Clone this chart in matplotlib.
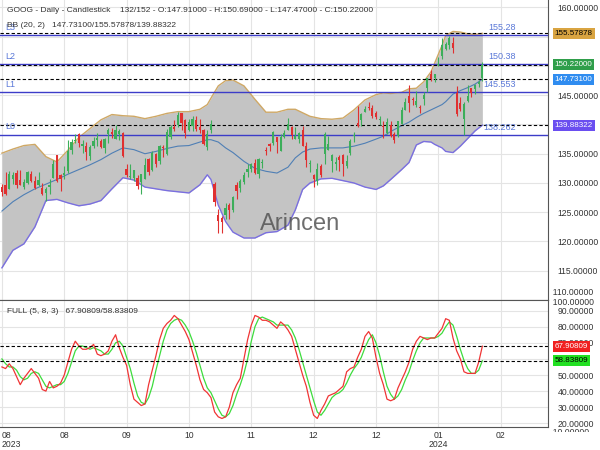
import numpy as np
import matplotlib
matplotlib.use("Agg")
from matplotlib import pyplot as plt
from matplotlib.transforms import Bbox, TransformedBbox

plt.rcParams['font.family'] = ['Liberation Sans', 'DejaVu Sans']

# GOOG daily bars, 2023-08-03 .. 2024-02-09 (132 bars)
opens = [129.4, 129.6, 129.0, 130.6, 131.7, 130.5, 129.3, 130.0, 131.5, 130.3,
         129.7, 129.2, 128.3, 129.4, 130.9, 134.7, 131.3, 131.3, 132.0, 135.6,
         137.1, 138.4, 136.4, 136.3, 134.6, 136.4, 137.4, 137.1, 135.9, 138.4,
         138.8, 137.6, 138.3, 138.6, 132.4, 131.1, 130.9, 130.9, 130.2, 130.7,
         134.1, 132.2, 134.9, 133.7, 136.1, 134.9, 137.9, 139.5, 139.9, 141.9,
         140.7, 139.0, 139.8, 140.8, 139.5, 139.0, 136.2, 139.1, 129.8, 124.5,
         124.0, 124.5, 126.3, 125.3, 129.6, 129.1, 130.2, 131.9, 132.4, 133.4,
         131.5, 133.4, 135.6, 136.6, 136.9, 137.8, 135.5, 137.9, 139.1, 139.5,
         137.6, 137.6, 139.0, 136.4, 133.3, 131.3, 130.4, 132.9, 135.0, 135.7,
         133.8, 133.3, 134.5, 134.8, 132.9, 135.1, 138.0, 140.2, 140.8, 142.1,
         143.0, 142.8, 141.9, 140.7, 139.6, 138.6, 139.9, 138.4, 138.0, 140.1,
         142.5, 144.9, 144.3, 143.4, 142.9, 144.3, 146.3, 148.7, 147.9, 150.2,
         151.7, 152.9, 153.6, 154.0, 145.4, 143.7, 140.9, 144.0, 146.2, 146.1,
         146.9, 147.91]
highs = [129.8, 131.9, 132.0, 131.9, 132.2, 132.3, 130.6, 132.0, 132.0, 131.2,
         131.9, 130.0, 129.3, 130.6, 133.9, 134.7, 131.5, 132.9, 137.4, 137.6,
         138.4, 138.6, 137.4, 137.0, 136.5, 137.9, 138.6, 137.6, 137.7, 139.4,
         139.4, 139.9, 139.2, 138.8, 133.2, 133.2, 132.2, 131.4, 131.5, 134.2,
         134.3, 135.4, 135.2, 136.5, 136.5, 139.2, 139.9, 140.8, 142.2, 142.0,
         141.0, 140.9, 141.4, 141.4, 140.9, 139.2, 139.0, 140.7, 130.1, 125.5,
         124.4, 126.6, 126.6, 127.7, 130.1, 130.7, 131.8, 133.3, 133.5, 134.1,
         134.3, 134.1, 136.2, 136.8, 138.9, 137.9, 138.4, 139.0, 141.1, 139.7,
         139.6, 138.7, 139.7, 137.0, 134.0, 131.5, 133.5, 133.3, 138.7, 138.0,
         134.9, 134.5, 134.8, 135.0, 134.8, 137.5, 138.8, 143.1, 142.0, 143.2,
         143.9, 143.3, 142.3, 141.4, 140.6, 141.1, 140.6, 138.8, 140.6, 143.0,
         144.5, 146.7, 144.7, 145.8, 143.4, 145.6, 148.0, 149.4, 148.7, 151.6,
         154.8, 154.1, 155.2, 155.0, 146.5, 144.7, 143.9, 146.7, 146.3, 147.0,
         147.6, 150.69]
lows = [127.7, 127.9, 128.9, 129.9, 129.2, 129.6, 128.9, 129.8, 130.1, 129.0,
        129.5, 127.9, 126.9, 128.1, 130.8, 130.1, 128.7, 130.6, 131.7, 135.0,
        136.8, 136.2, 135.2, 133.9, 133.9, 136.0, 136.4, 135.9, 135.2, 136.8,
        137.7, 137.6, 137.3, 134.5, 131.1, 130.7, 130.4, 128.9, 128.2, 130.7,
        131.3, 132.1, 132.8, 133.3, 134.5, 134.7, 137.6, 138.9, 139.5, 139.0,
        137.7, 138.9, 138.9, 138.9, 138.6, 136.5, 135.7, 138.5, 126.1, 121.5,
        121.5, 123.9, 123.9, 125.0, 127.3, 128.4, 129.9, 131.0, 131.9, 131.6,
        130.9, 132.6, 134.7, 135.5, 136.5, 135.2, 135.5, 137.7, 139.0, 137.5,
        137.5, 136.8, 136.3, 132.8, 131.8, 129.4, 129.7, 131.0, 133.3, 135.6,
        131.9, 132.2, 132.0, 131.2, 132.6, 134.8, 137.0, 139.5, 139.8, 142.1,
        142.5, 141.1, 141.0, 139.9, 137.7, 138.4, 137.9, 136.9, 137.9, 140.0,
        142.5, 142.2, 143.4, 143.0, 141.9, 143.4, 145.6, 147.4, 147.2, 150.0,
        151.2, 152.8, 152.9, 152.3, 141.5, 142.3, 138.2, 143.9, 144.7, 145.2,
        146.4, 147.47]
closes = [128.45, 128.11, 131.53, 131.40, 129.66, 129.69, 130.17, 131.83, 130.27, 129.11,
          130.46, 128.11, 128.93, 129.69, 133.21, 130.42, 130.69, 131.79, 135.49, 136.93,
          137.35, 136.80, 136.71, 135.37, 136.20, 137.20, 137.74, 136.07, 137.50, 138.99,
          138.30, 139.12, 138.83, 134.59, 131.36, 131.25, 132.17, 129.45, 131.46, 133.13,
          131.85, 135.17, 133.30, 136.27, 135.99, 138.73, 139.50, 139.20, 141.70, 140.29,
          138.58, 140.49, 140.99, 139.28, 138.98, 136.74, 138.42, 140.12, 126.67, 123.44,
          123.40, 125.75, 125.30, 127.57, 128.58, 130.37, 131.45, 132.40, 133.26, 131.69,
          134.06, 133.64, 135.43, 136.38, 138.70, 136.94, 137.92, 138.62, 140.02, 138.22,
          138.05, 138.62, 136.40, 133.92, 133.32, 130.63, 132.39, 131.43, 138.45, 136.64,
          134.70, 133.64, 133.97, 133.20, 133.84, 137.19, 138.10, 139.66, 141.80, 142.72,
          142.82, 141.44, 141.28, 140.93, 139.56, 140.36, 138.04, 137.39, 140.53, 142.56,
          143.80, 143.67, 144.24, 144.08, 142.89, 144.99, 147.97, 147.71, 148.68, 150.35,
          153.64, 153.79, 154.84, 153.05, 141.80, 142.71, 143.54, 144.93, 145.41, 146.68,
          147.22, 150.22]

# bollinger band (20, 2) at these bars
bb_idx = [0, 3, 6, 9, 12, 15, 18, 21, 24, 27, 30, 33, 36, 39, 42, 45, 48, 51, 54, 56,
          57, 59, 61, 63, 66, 69, 72, 75, 78, 80, 82, 84, 87, 90, 93, 96, 99, 102, 104, 106,
          109, 111, 113, 115, 117, 118, 120, 121, 123, 125, 127, 129, 131]
bb_upper = [135.1, 135.8, 136.4, 136.6, 134.5, 133.6, 135.6, 137.8, 139.3, 140.8,
            141.7, 141.5, 141.4, 141.0, 141.4, 141.9, 142.2, 142.2, 142.6, 143.4,
            144.5, 146.6, 147.5, 147.6, 146.6, 144.3, 142.1, 142.1, 142.6, 142.6,
            142.0, 141.4, 141.0, 140.9, 141.1, 142.5, 144.2, 145.1, 145.4, 145.3,
            145.5, 146.1, 146.2, 147.3, 149.0, 150.5, 153.5, 155.2, 155.9, 155.8,
            155.5, 155.4, 155.57878]
bb_mid = [125.2, 126.8, 128.0, 129.0, 129.8, 130.6, 131.5, 132.3, 133.1, 134.0,
          135.1, 136.0, 135.7, 135.0, 135.4, 135.9, 136.3, 136.4, 137.0, 137.4,
          137.4, 137.0, 136.0, 135.2, 133.7, 132.5, 132.0, 131.7, 132.7, 134.3,
          135.3, 135.8, 136.0, 136.0, 136.0, 136.3, 136.8, 137.5, 138.0, 138.8,
          139.8, 140.4, 141.2, 141.9, 142.5, 142.8, 143.4, 143.9, 145.2, 145.8,
          146.3, 146.9, 147.731]
bb_lower = [115.5, 118.5, 119.6, 122.5, 127.0, 127.2, 126.6, 126.1, 126.4, 127.0,
            129.0, 130.9, 130.5, 129.3, 129.0, 128.7, 128.5, 128.3, 129.7, 131.4,
            130.6, 126.2, 123.4, 121.6, 120.6, 120.6, 121.5, 121.7, 122.8, 125.4,
            128.9, 130.0, 130.7, 130.8, 130.4, 130.0, 129.3, 128.9, 129.5, 130.6,
            132.3, 133.5, 136.5, 137.1, 137.0, 136.6, 136.0, 135.4, 135.2, 136.3,
            137.6, 138.9, 139.88322]

# full stochastic (5, 8, 3), one value per bar
stoch_k = [55, 54, 57, 54, 49, 44, 48, 51, 54, 51, 48, 41, 40, 46, 42, 43, 45, 50, 58, 66,
           71, 68, 66, 66, 67, 69, 63, 62, 63, 65, 71, 75, 67, 61, 56, 44, 35, 33, 31, 32,
           44, 53, 62, 72, 79, 82, 84, 87, 85, 81, 77, 72, 64, 56, 47, 41, 39, 36, 27, 24,
           23, 24, 30, 39, 44, 48, 60, 72, 81, 87, 86, 84, 84, 83, 81, 79, 83, 81, 78, 74,
           66, 58, 50, 43, 33, 25, 23, 28, 32, 37, 38, 39, 41, 43, 52, 54, 55, 61, 66, 74,
           77, 73, 61, 51, 44, 35, 34, 35, 42, 47, 52, 58, 66, 71, 74, 73, 72, 73, 73, 76,
           79, 85, 84, 73, 65, 60, 52, 51, 51, 51, 58, 67.90809]
stoch_d = [60, 57, 55, 55, 53, 49, 47, 48, 51, 52, 51, 47, 43, 42, 43, 44, 44, 46, 51, 58,
           65, 68, 68, 67, 66, 67, 66, 65, 63, 63, 66, 70, 71, 68, 61, 54, 45, 37, 33, 32,
           36, 43, 53, 62, 71, 78, 82, 84, 85, 84, 81, 77, 71, 64, 56, 48, 42, 39, 34, 29,
           25, 24, 26, 31, 38, 44, 51, 60, 71, 80, 85, 86, 85, 84, 83, 81, 81, 81, 81, 78,
           73, 66, 58, 50, 42, 34, 27, 25, 28, 32, 36, 38, 39, 41, 45, 50, 54, 57, 61, 67,
           72, 75, 70, 62, 52, 43, 38, 35, 37, 41, 47, 52, 59, 65, 70, 73, 73, 73, 73, 74,
           76, 80, 83, 81, 74, 66, 59, 54, 51, 51, 53, 58.83809]

levels = [155.28, 150.38, 145.553, 138.262]
level_names = ['L3', 'L2', 'L1', 'L0']

tick_bars = [0, 17, 34, 51, 68, 85, 102, 119, 136]
tick_labels = ['08\n2023', '08', '09', '10', '11', '12', '12', '01\n2024', '02']

price_ticks = [115, 120, 125, 130, 135, 145, 160]   # 140/150/155 sit under the value boxes
stoch_ticks = [20, 30, 40, 50, 70, 80, 90]

GREEN = '#3cae5a'
RED = '#e03030'
BLUE = '#3c3cc8'
LBLUE = '#5a78d8'
GRID = '#e4e4e4'
SPINE = '#555555'
TXT = '#333333'
FS = 6.2
BOX_FS = 5.8

W, H = 600, 450
fig = plt.figure(figsize=(6, 4.5), dpi=100)
ax = fig.add_axes([0, 1 - 300 / H, 548 / W, 300 / H])
ax2 = fig.add_axes([0, 1 - 427 / H, 548 / W, 127 / H], sharex=ax)

x = np.arange(len(closes))
o = np.array(opens); c = np.array(closes)
h = np.array(highs); l = np.array(lows)

# ---- price panel
ax.fill_between(bb_idx, bb_lower, bb_upper, color='#c4c4c4', lw=0, zorder=1)
ax.plot(bb_idx, bb_upper, color='#cfa865', lw=1, zorder=2)
ax.plot(bb_idx, bb_lower, color='#7a6fe0', lw=1, zorder=2)
ax.plot(bb_idx, bb_mid, color='#4f7fb5', lw=0.8, zorder=2)

cols = np.where(c >= o, GREEN, RED)
ax.vlines(x, l, h, color=cols, lw=0.8, zorder=3)
ax.bar(x, np.maximum(np.abs(c - o), 0.15), bottom=np.minimum(o, c), width=0.62,
       color=cols, lw=0, zorder=4)

ytr = ax.get_yaxis_transform()
for v, name in zip(levels, level_names):
    ax.axhline(v, color=BLUE, lw=1, zorder=2.5)
    ax.text(0.009, v + 0.55, name, color=LBLUE, fontsize=6.5, va='bottom', transform=ytr, zorder=6)
    ax.text(0.942, v + 0.5, f'{v:g}', color=LBLUE, fontsize=6.5, ha='right', va='bottom',
            transform=ytr, zorder=6)

for v in [bb_upper[-1], closes[-1], bb_mid[-1], bb_lower[-1]]:
    ax.axhline(v, color='black', lw=0.8, ls=(0, (3, 2)), zorder=2.6)

ax.text(0.547, 0.253, 'Arincen', transform=ax.transAxes, ha='center', va='center',
        fontsize=17, color='#555555', alpha=0.85, zorder=7)

ax.set_ylim(110.09, 161.28)
ax.set_xlim(-0.52, 148.9)
ax.set_yticks(np.arange(110, 161, 5), minor=True)
ax.set_yticks(price_ticks)
ax.yaxis.tick_right()
ax.yaxis.set_major_formatter(plt.FuncFormatter(lambda v, p: f'{v:.5f}'))
ax.tick_params(axis='y', which='both', length=0, pad=7, labelsize=FS, labelcolor=TXT)
ax.tick_params(axis='x', length=0, labelbottom=False)
ax.set_xticks(tick_bars)
ax.grid(color=GRID, lw=0.8)
ax.grid(axis='y', which='minor', color=GRID, lw=0.8)
ax.set_axisbelow(True)
for s in ['top', 'left']:
    ax.spines[s].set_visible(False)
ax.spines['right'].set_color(SPINE)
ax.spines['bottom'].set_color(SPINE)
ax.text(1.0, 111.3, '  110.00000', transform=ytr, fontsize=FS, color=TXT, va='center', ha='left')

# value boxes on the price scale
boxes = [(bb_upper[-1], '#d9a441', 'black'), (closes[-1], '#2f9e4a', 'white'),
         (bb_mid[-1], '#2f8cf0', 'white'), (bb_lower[-1], '#6a4ef0', 'white')]
for v, bg, fg in boxes:
    ax.text(1.012, v, f'{v:.5f}', transform=ytr, fontsize=BOX_FS, color=fg, va='center', ha='left',
            zorder=10, bbox=dict(boxstyle='square,pad=0.25', fc=bg, ec='none'))

# ---- stochastic panel
ax2.plot(x, stoch_d, color='#3ddc3d', lw=0.9)
ax2.plot(x, stoch_k, color='#f03535', lw=0.9)
ax2.axhline(stoch_k[-1], color='black', lw=0.8, ls=(0, (3, 2)))
ax2.axhline(stoch_d[-1], color='black', lw=0.8, ls=(0, (3, 2)))
ax2.set_ylim(17.7, 96.6)
ax2.set_yticks(np.arange(20, 91, 10), minor=True)
ax2.set_yticks(stoch_ticks)
ax2.yaxis.tick_right()
ax2.yaxis.set_major_formatter(plt.FuncFormatter(lambda v, p: f'{v:.5f}'))
ax2.tick_params(axis='y', which='both', length=0, pad=7, labelsize=FS, labelcolor=TXT)
ax2.set_xticks(tick_bars)
ax2.set_xticklabels(tick_labels, fontsize=FS, color=TXT, linespacing=0.95)
ax2.tick_params(axis='x', length=0, pad=3)
ax2.xaxis.get_majorticklabels()[0].set_horizontalalignment('left')
ax2.grid(color=GRID, lw=0.8)
ax2.grid(axis='y', which='minor', color=GRID, lw=0.8)
ax2.set_axisbelow(True)
ax2.spines['left'].set_visible(False)
for s in ['top', 'right', 'bottom']:
    ax2.spines[s].set_color(SPINE)
ytr2 = ax2.get_yaxis_transform()
ax2.text(1.0, 95.2, '  100.00000', transform=ytr2, fontsize=FS, color=TXT, va='center', ha='left')
# bottom label is half hidden at the panel edge, like on the chart
lab10 = ax2.text(1.0, 14.2, '  10.00000', transform=ytr2, fontsize=FS, color=TXT,
                 va='center', ha='left')
lab10.set_clip_box(TransformedBbox(Bbox([[1.0, 0.0], [1.1, 1.0]]), ax2.transAxes))
lab10.set_clip_on(True)
lab10.set_clip_box(TransformedBbox(Bbox([[1.0, -0.04], [1.1, 1.0]]), ax2.transAxes))
for v, bg, fg in [(stoch_k[-1], '#f02020', 'white'), (stoch_d[-1], '#22e022', 'black')]:
    ax2.text(1.012, v, f'{v:.5f}', transform=ytr2, fontsize=BOX_FS, color=fg, va='center', ha='left',
             zorder=10, bbox=dict(boxstyle='square,pad=0.25', fc=bg, ec='none'))

# ---- header texts
head = (f'GOOG - Daily - Candlestick    {len(closes)}/152 - O:{opens[-1]:.5f} - '
        f'H:{highs[-1]:.5f} - L:{lows[-1]:.5f} - C:{closes[-1]:.5f}')
fig.text(7 / W, 1 - 11 / H, head, fontsize=6.0, color=TXT, va='center')
fig.text(7 / W, 1 - 25.5 / H, f'BB (20, 2)   {bb_mid[-1]:.5f}/{bb_upper[-1]:.5f}/{bb_lower[-1]:.5f}',
         fontsize=6.0, color=TXT, va='center')
fig.text(7 / W, 1 - 311.5 / H, f'FULL (5, 8, 3)   {stoch_k[-1]:.5f}/{stoch_d[-1]:.5f}',
         fontsize=6.0, color=TXT, va='center')

fig.savefig('out.png', dpi=100, facecolor='white')
